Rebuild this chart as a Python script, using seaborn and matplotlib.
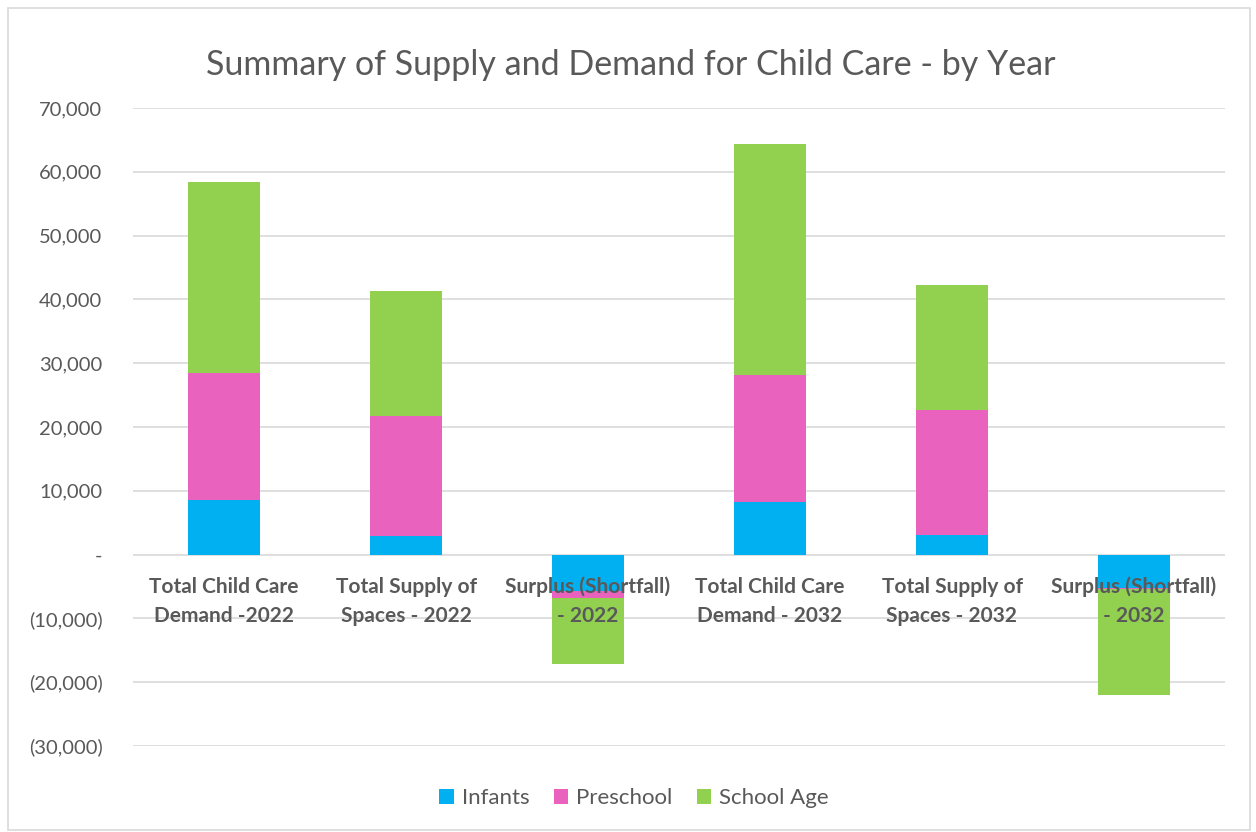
import numpy as np
import pandas as pd
import matplotlib
matplotlib.use("Agg")
import matplotlib.pyplot as plt
import seaborn as sns
from matplotlib.patches import Patch, Rectangle

categories = ["Total Child Care\nDemand -2022", "Total Supply of\nSpaces - 2022",
              "Surplus (Shortfall)\n- 2022", "Total Child Care\nDemand - 2032",
              "Total Supply of\nSpaces - 2032", "Surplus (Shortfall)\n- 2032"]
infants = [8600, 2900, -5700, 8300, 3100, -5200]
preschool = [19900, 18800, -1100, 19800, 19600, -200]
school_age = [29900, 19600, -10300, 36200, 19600, -16600]
series_names = ["Infants", "Preschool", "School Age"]
colors = ["#00B0F0", "#E962BE", "#92D050"]
yticks = [-30000, -20000, -10000, 0, 10000, 20000, 30000, 40000, 50000, 60000, 70000]

sns.set_theme(style="white")
plt.rcParams['font.family'] = ['Lato', 'DejaVu Sans']
txt = "#595959"

fig = plt.figure(figsize=(12.56, 8.32), dpi=100)
ax = fig.add_axes([133/1256, 1-746/832, (1225-133)/1256, (746-108)/832])

ids = list(range(len(categories)))
cum1 = np.array(infants)
cum2 = cum1 + np.array(preschool)
cum3 = cum2 + np.array(school_age)
df = pd.DataFrame({"pos": ids, "c1": cum1, "c2": cum2, "c3": cum3})

for col, c in [("c3", colors[2]), ("c2", colors[1]), ("c1", colors[0])]:
    sns.barplot(data=df, x="pos", y=col, color=c, width=0.4, ax=ax,
                saturation=1, zorder=3, linewidth=0)

ax.set_xlim(-0.5, 5.5)
ax.set_ylim(-30000, 70000)
ax.set_yticks(yticks)

def fmt(v):
    if v == 0:
        return "-"
    if v < 0:
        return "({:,})".format(-v)
    return "{:,}".format(v)

ax.set_yticklabels([fmt(v) for v in yticks], color=txt, fontsize=14.5)
ax.tick_params(axis="y", length=0, pad=22)
ax.set_xticks([])
ax.set_xlabel("")
ax.set_ylabel("")
for s in ax.spines.values():
    s.set_visible(False)
ax.grid(axis="y", color="#D9D9D9", linewidth=1.2, zorder=0)
ax.set_axisbelow(True)

for i, lab in enumerate(categories):
    ax.annotate(lab, xy=(i, 0), xytext=(0, -16), textcoords="offset points",
                ha="center", va="top", fontsize=15, fontweight="bold",
                color=txt, linespacing=1.55, zorder=5)

fig.text(631/1256, 1-65/832, "Summary of Supply and Demand for Child Care - by Year",
         ha="center", va="center", fontsize=24.5, color=txt)

handles = [Patch(facecolor=c, edgecolor="none") for c in colors]
fig.legend(handles, series_names, loc="center", bbox_to_anchor=(634/1256, 1-798/832),
           ncol=3, frameon=False, fontsize=16, labelcolor=txt,
           handlelength=0.65, handleheight=0.65, handletextpad=0.35, columnspacing=1.1)

fig.patches.append(Rectangle((8/1256, 2/832), 1242/1256, 822/832, transform=fig.transFigure,
                             fill=False, edgecolor="#D9D9D9", linewidth=1.2))

fig.savefig("out.png", dpi=100, facecolor="white")
